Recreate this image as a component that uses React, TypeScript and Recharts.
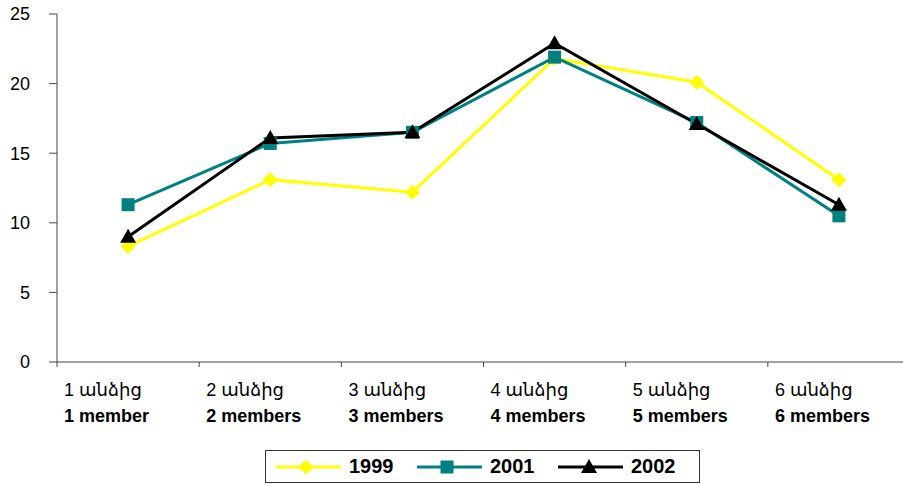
import { Legend, Line, LineChart, XAxis, YAxis } from "recharts";

const armenianLabels = ["1 անձից", "2 անձից", "3 անձից", "4 անձից", "5 անձից", "6 անձից"];
const englishLabels = ["1 member", "2 members", "3 members", "4 members", "5 members", "6 members"];
const values1999 = [8.3, 13.1, 12.2, 21.8, 20.1, 13.1];
const values2001 = [11.3, 15.7, 16.5, 21.9, 17.2, 10.5];
const values2002 = [9.0, 16.1, 16.5, 22.9, 17.1, 11.3];
const yTicks = [0, 5, 10, 15, 20, 25];

const data = armenianLabels.map((name, i) => ({
    name,
    en: englishLabels[i],
    y1999: values1999[i],
    y2001: values2001[i],
    y2002: values2002[i],
}));

const CHART_W = 910;
const CHART_H = 484;
const Y_W = 57;
const FONT = "'Liberation Sans', Arial, 'DejaVu Sans', sans-serif";
const AXIS = "#444";
const bandW = (CHART_W - Y_W) / data.length;

function Diamond(props: any) {
    const { cx, cy } = props;
    if (cx == null || cy == null) return null;
    const r = 7.5;
    return <polygon points={`${cx},${cy - r} ${cx + r},${cy} ${cx},${cy + r} ${cx - r},${cy}`} fill="#FFFF00" />;
}

function Square(props: any) {
    const { cx, cy } = props;
    if (cx == null || cy == null) return null;
    return <rect x={cx - 6.5} y={cy - 6.5} width={13} height={13} fill="#008080" />;
}

function Triangle(props: any) {
    const { cx, cy } = props;
    if (cx == null || cy == null) return null;
    return <polygon points={`${cx},${cy - 8} ${cx + 8},${cy + 6} ${cx - 8},${cy + 6}`} fill="#000" />;
}

function CategoryTick(props: any) {
    const { x, y, payload, index } = props;
    const en = englishLabels[index];
    return (
        <g>
            <line x1={x - bandW / 2} y1={y} x2={x - bandW / 2} y2={y + 5} stroke={AXIS} />
            {index === data.length - 1 && (
                <line x1={x + bandW / 2} y1={y} x2={x + bandW / 2} y2={y + 5} stroke={AXIS} />
            )}
            <text x={x - 64} y={y + 34} textAnchor="start" fontFamily={FONT} fontSize={18} fill="#000">
                {payload.value}
            </text>
            <text x={x - 64} y={y + 60} textAnchor="start" fontFamily={FONT} fontSize={18} fontWeight="bold" fill="#000">
                {en}
            </text>
        </g>
    );
}

const legendItems = [
    { label: "1999", color: "#FFFF00", marker: "diamond" },
    { label: "2001", color: "#008080", marker: "square" },
    { label: "2002", color: "#000000", marker: "triangle" },
];

function LegendBox() {
    return (
        <div
            style={{
                width: 433,
                height: 31,
                border: "1px solid #333",
                background: "#fff",
                display: "flex",
                alignItems: "center",
                fontFamily: FONT,
                fontWeight: "bold",
                fontSize: 20,
                boxSizing: "content-box",
            }}
        >
            {legendItems.map((item, i) => (
                <div key={item.label} style={{ display: "flex", alignItems: "center", marginLeft: i === 0 ? 10 : 0, width: 141.5 }}>
                    <svg width={65} height={20}>
                        <line x1={0} y1={10} x2={65} y2={10} stroke={item.color} strokeWidth={3} />
                        {item.marker === "diamond" && <Diamond cx={30} cy={10} />}
                        {item.marker === "square" && <Square cx={30} cy={10} />}
                        {item.marker === "triangle" && <Triangle cx={31} cy={10} />}
                    </svg>
                    <span style={{ marginLeft: 8 }}>{item.label}</span>
                </div>
            ))}
        </div>
    );
}

export default function App() {
    return (
        <div style={{ position: "absolute", left: 0, top: 0, width: 903, height: 484, overflow: "hidden", background: "#fff" }}>
            <LineChart width={CHART_W} height={CHART_H} data={data} margin={{ top: 14, right: 0, bottom: 0, left: 0 }}>
                <XAxis
                    dataKey="name"
                    scale="band"
                    height={122}
                    tickLine={false}
                    tickSize={0}
                    tickMargin={0}
                    interval={0}
                    stroke={AXIS}
                    tick={<CategoryTick />}
                />
                <YAxis
                    width={Y_W}
                    domain={[0, 25]}
                    ticks={yTicks}
                    tickSize={8}
                    tickMargin={19}
                    stroke={AXIS}
                    tick={{ fill: "#000", fontSize: 18, fontFamily: FONT }}
                />
                <Legend
                    layout="horizontal"
                    verticalAlign="middle"
                    align="center"
                    wrapperStyle={{ left: 265, top: 450, width: "auto" }}
                    content={() => <LegendBox />}
                />
                <Line dataKey="y1999" stroke="#FFFF00" strokeWidth={3} dot={<Diamond />} activeDot={false} isAnimationActive={false} />
                <Line dataKey="y2001" stroke="#008080" strokeWidth={3} dot={<Square />} activeDot={false} isAnimationActive={false} />
                <Line dataKey="y2002" stroke="#000000" strokeWidth={3} dot={<Triangle />} activeDot={false} isAnimationActive={false} />
            </LineChart>
        </div>
    );
}
